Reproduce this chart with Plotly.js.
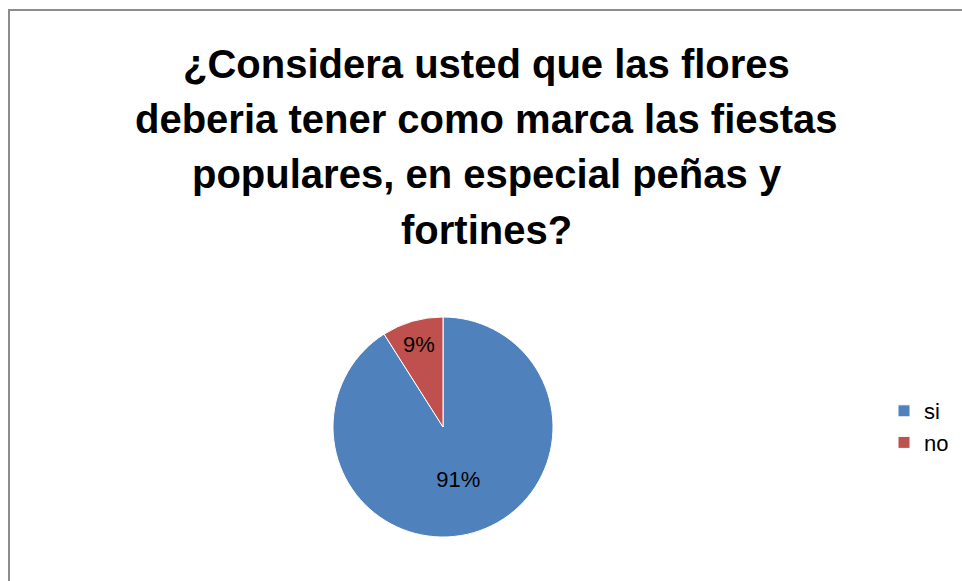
<!DOCTYPE html>
<html>
<head>
<meta charset="utf-8">
<script src="https://cdn.plot.ly/plotly-3.0.1.min.js"></script>
<style>
html,body{margin:0;padding:0;background:#fff;overflow:hidden;}
#frame{position:absolute;left:8px;top:9px;width:1000px;height:1000px;border:2px solid #8c8c8c;box-sizing:border-box;}
#chart{position:absolute;left:0;top:0;width:962px;height:581px;}
</style>
</head>
<body>
<div id="frame"></div>
<div id="chart"></div>
<script>
var labels = ["si", "no"];
var values = [91, 9];
var colors = ["#4F81BD", "#C0504D"];
var titleLines = [
  "¿Considera usted que las flores",
  "deberia tener como marca las fiestas",
  "populares, en especial peñas y",
  "fortines?"
];
var titleY = [64, 119, 174, 230];

var W = 962, H = 581;
var FONT = 'Liberation Sans, Arial, sans-serif';
var annotations = titleLines.map(function(t, i){
  return {text: '<b>' + t + '</b>', xref: 'paper', yref: 'paper', x: 487/W, y: 1 - titleY[i]/H,
    xanchor: 'center', yanchor: 'middle', showarrow: false,
    font: {family: FONT, size: 40, color: '#000'}};
});

var trace = {
  type: 'pie',
  labels: labels,
  values: values,
  sort: false,
  direction: 'clockwise',
  rotation: 0,
  marker: {colors: colors, line: {color: '#ffffff', width: 1}},
  textinfo: 'percent',
  texttemplate: '%{percent:.0%}',
  textposition: 'inside',
  insidetextorientation: 'horizontal',
  textfont: {family: FONT, size: 22, color: '#000'},
  domain: {x: [333/W, 553/W], y: [44/H, 264/H]},
  hoverinfo: 'label+percent'
};

var layout = {
  width: W, height: H,
  margin: {l: 0, r: 0, t: 0, b: 0},
  paper_bgcolor: 'rgba(0,0,0,0)',
  plot_bgcolor: 'rgba(0,0,0,0)',
  showlegend: true,
  legend: {x: 884/W, y: 1 - 427/H, xanchor: 'left', yanchor: 'middle',
    font: {family: FONT, size: 22, color: '#000'},
    bgcolor: 'rgba(0,0,0,0)'},
  annotations: annotations
};
Plotly.newPlot('chart', [trace], layout, {displayModeBar: false, staticPlot: true});
</script>
</body>
</html>
